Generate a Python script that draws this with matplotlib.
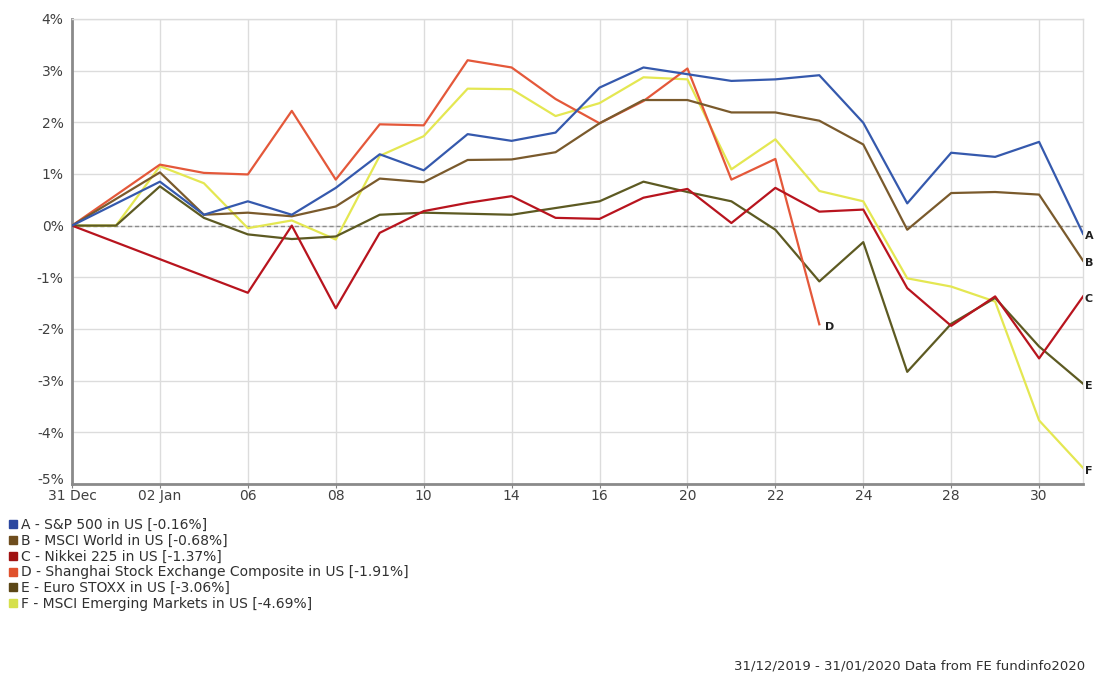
import matplotlib.pyplot as plt
from matplotlib.lines import Line2D

plt.rcParams['font.family'] = ['DejaVu Sans']

# trading-day positions: 0 = 31 Dec, 1 = 01 Jan, 2 = 02 Jan ... 23 = 31 Jan
tick_pos = [0, 2, 4, 6, 8, 10, 12, 14, 16, 18, 20, 22]
tick_labels = ['31 Dec', '02 Jan', '06', '08', '10', '14', '16', '20', '22', '24', '28', '30']

a_x = [0] + list(range(2, 24))
a_y = [0, 0.85, 0.21, 0.47, 0.21, 0.73, 1.38, 1.07, 1.77, 1.64, 1.80, 2.67,
       3.06, 2.93, 2.80, 2.83, 2.91, 1.99, 0.43, 1.41, 1.33, 1.62, -0.16]

b_x = [0] + list(range(2, 24))
b_y = [0, 1.03, 0.21, 0.25, 0.18, 0.37, 0.91, 0.84, 1.27, 1.28, 1.42, 1.98,
       2.43, 2.43, 2.19, 2.19, 2.03, 1.57, -0.08, 0.63, 0.65, 0.60, -0.68]

c_x = [0] + list(range(4, 24))
c_y = [0, -1.30, 0.0, -1.60, -0.14, 0.28, 0.44, 0.57, 0.15, 0.13, 0.54,
       0.71, 0.05, 0.73, 0.27, 0.31, -1.21, -1.94, -1.37, -2.57, -1.37]

d_x = [0] + list(range(2, 18))
d_y = [0, 1.18, 1.02, 0.99, 2.22, 0.89, 1.96, 1.94, 3.20, 3.06, 2.45, 1.98,
       2.41, 3.04, 0.89, 1.29, -1.91]

e_x = list(range(0, 24))
e_y = [0, 0, 0.76, 0.15, -0.17, -0.26, -0.21, 0.21, 0.25, 0.23, 0.21, 0.34,
       0.47, 0.85, 0.65, 0.47, -0.08, -1.08, -0.32, -2.83, -1.90, -1.40, -2.34, -3.06]

f_x = list(range(0, 24))
f_y = [0, 0, 1.15, 0.82, -0.05, 0.10, -0.27, 1.35, 1.73, 2.65, 2.64, 2.12,
       2.37, 2.87, 2.83, 1.09, 1.67, 0.67, 0.47, -1.02, -1.18, -1.47, -3.77, -4.69]

letters = ['A', 'B', 'C', 'D', 'E', 'F']
names = ['S&P 500 in US', 'MSCI World in US', 'Nikkei 225 in US',
         'Shanghai Stock Exchange Composite in US', 'Euro STOXX in US',
         'MSCI Emerging Markets in US']
colors = ['#3559ad', '#7a5a2c', '#b8141e', '#e4583a', '#5d5a22', '#e4e752']
legend_colors = ['#2b47a0', '#6e4d1e', '#a01212', '#e0512c', '#5b4616', '#d6e04c']

xs = [a_x, b_x, c_x, d_x, e_x, f_x]
ys = [a_y, b_y, c_y, d_y, e_y, f_y]

fig = plt.figure(figsize=(10.96, 6.75), dpi=100)
ax = fig.add_axes([0.0657, 0.283, 0.9225, 0.689])

ax.set_xlim(0, 23)
ax.set_ylim(-5, 4)
ax.set_xticks(tick_pos)
ax.set_xticklabels(tick_labels)
ax.set_yticks(range(-5, 5))
ax.set_yticklabels([f'{v}%' for v in range(-5, 5)])
ax.grid(True, color='#dcdcdc', lw=1)
ax.set_axisbelow(True)
ax.tick_params(axis='both', labelsize=10, colors='#404040', length=0)
ax.tick_params(axis='y', pad=6)
ax.tick_params(axis='x', length=3, color='#808080', pad=0.5)
# lift the bottom percentage so it clears the first date label
ax.get_yticklabels()[0].set_verticalalignment('baseline')
for side in ['left', 'bottom']:
    ax.spines[side].set_color('#8a8a8a')
    ax.spines[side].set_linewidth(2)
for side in ['top', 'right']:
    ax.spines[side].set_color('#dcdcdc')
    ax.spines[side].set_linewidth(1)

ax.axhline(0, color='#8c8c8c', lw=1, ls=(0, (3, 2)), zorder=1)

# draw back to front so the top series matches the stacking order
for i in [5, 4, 3, 2, 1, 0]:
    ax.plot(xs[i], ys[i], color=colors[i], lw=1.6, zorder=3)

# end-of-line letters
for i in [0, 1, 2, 4, 5]:
    ax.text(xs[i][-1] + 0.04, ys[i][-1] - 0.05, letters[i], fontsize=8,
            fontweight='bold', color='#202020', va='center', ha='left', clip_on=False)
ax.text(d_x[-1] + 0.12, d_y[-1] - 0.05, 'D', fontsize=8, fontweight='bold',
        color='#202020', va='center', ha='left')

handles = [Line2D([], [], marker='s', ls='none', color=c, markersize=6) for c in legend_colors]
labels = [f'{l} - {n} [{v[-1]:.2f}%]' for l, n, v in zip(letters, names, ys)]
fig.legend(handles, labels, loc='upper left', bbox_to_anchor=(0.008, 0.2325),
           frameon=False, fontsize=10, handlelength=0.6, handletextpad=0.3,
           labelspacing=0.13, borderpad=0, borderaxespad=0, labelcolor='#303030')

fig.text(0.99, 0.003, '31/12/2019 - 31/01/2020 Data from FE fundinfo2020',
         ha='right', va='bottom', fontsize=9.5, color='#303030')

fig.savefig('out.png', dpi=100)
